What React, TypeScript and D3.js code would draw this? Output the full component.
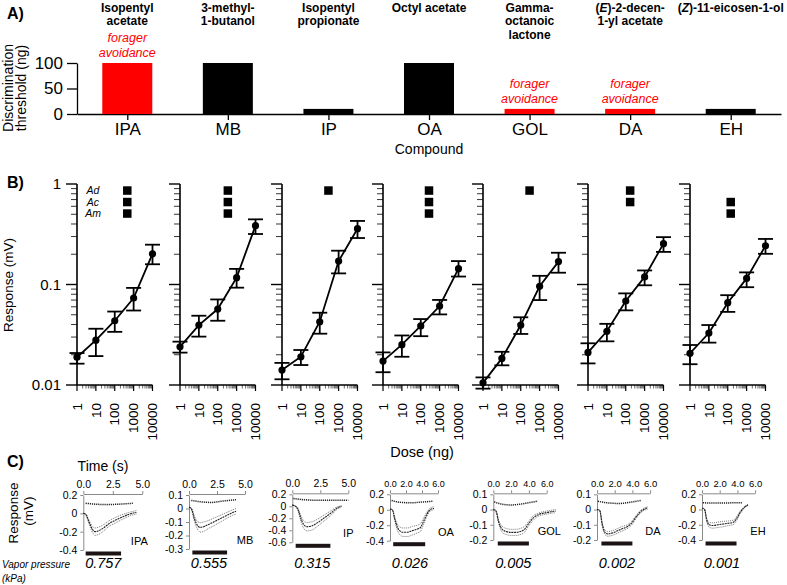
import React, { useEffect, useRef } from 'react';
import * as d3 from 'd3';

const FONT = "'Liberation Sans', Arial, Helvetica, sans-serif";

// ---------- panel A data ----------
const codes = ['IPA', 'MB', 'IP', 'OA', 'GOL', 'DA', 'EH'];
const names = [
  ['Isopentyl', 'acetate'],
  ['3-methyl-', '1-butanol'],
  ['Isopentyl', 'propionate'],
  ['Octyl acetate'],
  ['Gamma-', 'octanoic', 'lactone'],
  ['(*E*)-2-decen-', '1-yl acetate'],
  ['(*Z*)-11-eicosen-1-ol'],
];
const thresholds = [100, 100, 10, 100, 10, 10, 10];
const avoided = [true, false, false, false, true, true, false];
const thresholdTicks = [0, 50, 100];

// ---------- panel B data ----------
const doses = [1, 10, 100, 1000, 10000];
const doseLabels = ['1', '10', '100', '1000', '10000'];
const respTicks = [1, 0.1, 0.01];
const respTickLabels = ['1', '0.1', '0.01'];
const receptors = ['Ad', 'Ac', 'Am'];
const receptorHits = [
  [1, 1, 1],
  [1, 1, 1],
  [1, 0, 0],
  [1, 1, 1],
  [1, 0, 0],
  [1, 1, 0],
  [0, 1, 1],
];
const respMean = [
  [0.0189, 0.0279, 0.0436, 0.0734, 0.202],
  [0.024, 0.0395, 0.057, 0.117, 0.385],
  [0.0141, 0.0191, 0.0426, 0.171, 0.359],
  [0.0173, 0.0252, 0.0387, 0.0611, 0.1436],
  [0.0105, 0.0184, 0.0395, 0.096, 0.169],
  [0.0211, 0.0342, 0.0685, 0.119, 0.255],
  [0.0207, 0.0329, 0.0659, 0.115, 0.243],
];
const respLo = [
  [0.0163, 0.0194, 0.0338, 0.0551, 0.159],
  [0.021, 0.0303, 0.0436, 0.093, 0.318],
  [0.0114, 0.0158, 0.0324, 0.129, 0.29],
  [0.0134, 0.0191, 0.0306, 0.0504, 0.12],
  [0.0092, 0.0157, 0.0322, 0.07, 0.131],
  [0.0164, 0.0272, 0.0553, 0.0982, 0.211],
  [0.0161, 0.0264, 0.0534, 0.094, 0.202],
];
const respHi = [
  [0.0208, 0.0363, 0.0538, 0.0925, 0.249],
  [0.027, 0.0489, 0.071, 0.143, 0.445],
  [0.0166, 0.0223, 0.0524, 0.217, 0.429],
  [0.0211, 0.0311, 0.0453, 0.0702, 0.171],
  [0.0119, 0.0214, 0.0472, 0.122, 0.207],
  [0.026, 0.0406, 0.0816, 0.138, 0.296],
  [0.025, 0.0395, 0.0783, 0.132, 0.284],
];

// ---------- panel C data ----------
const timeTicks = [[0, 2.5, 5], [0, 2.5, 5], [0, 2.5, 5], [0, 2, 4, 6], [0, 2, 4, 6], [0, 2, 4, 6], [0, 2, 4, 6]];
const mvTicks = [
  [0.2, 0, -0.2, -0.4],
  [0.1, 0, -0.1, -0.2, -0.3],
  [0.2, 0, -0.2, -0.4, -0.6],
  [0.2, 0, -0.2, -0.4],
  [0.1, 0, -0.1, -0.2],
  [0.1, 0, -0.1, -0.2],
  [0.2, 0, -0.2, -0.4],
];
const traceTime = [
  [0, 0.2, 0.5, 0.8, 1.0, 1.3, 1.7, 2.2, 2.8, 3.4, 4.0, 4.5],
  [0, 0.2, 0.5, 0.8, 1.0, 1.3, 1.7, 2.2, 2.8, 3.4, 3.9, 4.2],
  [0, 0.2, 0.5, 0.8, 1.0, 1.3, 1.7, 2.2, 2.8, 3.4, 4.0, 4.4],
  [0, 0.3, 0.6, 0.9, 1.2, 1.6, 2.2, 2.8, 3.4, 3.8, 4.2, 4.6, 5.0, 5.5],
  [0, 0.3, 0.6, 1.0, 1.5, 2.0, 2.5, 3.0, 3.5, 4.0, 4.5, 5.0, 6.0, 7.0],
  [0, 0.3, 0.6, 0.9, 1.2, 1.7, 2.3, 2.9, 3.5, 3.9, 4.4, 5.0, 5.7],
  [0, 0.3, 0.5, 0.8, 1.2, 1.8, 2.4, 3.0, 3.5, 3.9, 4.3, 4.7, 5.2],
];
const traceMean = [
  [0, -0.01, -0.1, -0.18, -0.2, -0.19, -0.16, -0.11, -0.07, -0.035, -0.005, 0.01],
  [0.01, 0.0, -0.08, -0.13, -0.14, -0.135, -0.12, -0.1, -0.075, -0.05, -0.03, -0.02],
  [0.02, 0.01, -0.05, -0.22, -0.3, -0.34, -0.33, -0.28, -0.2, -0.12, -0.03, 0.0],
  [0.01, 0.0, -0.12, -0.22, -0.27, -0.29, -0.29, -0.27, -0.25, -0.23, -0.15, -0.06, 0.0, 0.02],
  [0.0, -0.01, -0.08, -0.13, -0.145, -0.15, -0.15, -0.145, -0.13, -0.09, -0.055, -0.035, -0.02, -0.01],
  [0, -0.005, -0.1, -0.15, -0.16, -0.155, -0.14, -0.125, -0.11, -0.09, -0.05, -0.01, 0.01],
  [0.02, 0.0, -0.12, -0.2, -0.21, -0.2, -0.19, -0.18, -0.17, -0.12, -0.04, 0.02, 0.06],
];
const traceSe = [
  [0, 0.005, 0.02, 0.035, 0.04, 0.04, 0.035, 0.03, 0.03, 0.025, 0.02, 0.02],
  [0, 0.005, 0.02, 0.03, 0.035, 0.035, 0.03, 0.028, 0.025, 0.022, 0.02, 0.02],
  [0, 0, 0.02, 0.05, 0.06, 0.07, 0.07, 0.06, 0.05, 0.04, 0.02, 0.01],
  [0, 0, 0.02, 0.04, 0.05, 0.055, 0.055, 0.055, 0.05, 0.05, 0.04, 0.03, 0.02, 0.02],
  [0, 0.005, 0.01, 0.02, 0.02, 0.02, 0.02, 0.02, 0.02, 0.015, 0.015, 0.01, 0.01, 0.01],
  [0, 0, 0.01, 0.015, 0.015, 0.015, 0.015, 0.015, 0.012, 0.012, 0.01, 0.008, 0.008],
  [0, 0, 0.02, 0.03, 0.035, 0.035, 0.035, 0.03, 0.03, 0.025, 0.015, 0.01, 0.01],
];
const ctrlTime = [
  [0.2, 1.0, 2.0, 3.0, 4.2],
  [0.2, 1.0, 2.0, 3.0, 4.2],
  [0.1, 1.0, 2.5, 4.0, 5.0],
  [0.2, 1.0, 2.5, 4.0, 5.3],
  [0.1, 1.0, 2.0, 3.0, 4.0, 5.0],
  [0.1, 1.0, 2.5, 4.0, 5.0],
  [0.1, 1.0, 2.5, 4.0, 4.6],
];
const ctrlMean = [
  [0.11, 0.1, 0.095, 0.1, 0.11],
  [0.06, 0.05, 0.045, 0.055, 0.065],
  [0.13, 0.11, 0.1, 0.1, 0.1],
  [0.12, 0.1, 0.09, 0.1, 0.11],
  [0.05, 0.035, 0.03, 0.035, 0.045, 0.055],
  [0.055, 0.045, 0.04, 0.05, 0.06],
  [0.09, 0.085, 0.085, 0.09, 0.09],
];
const stimulus = [[0.2, 3.2], [0.3, 3.4], [0.3, 3.4], [0.4, 4.4], [0.5, 4.0], [0.5, 4.0], [0.4, 3.9]];
const vaporPressure = ['0.757', '0.555', '0.315', '0.026', '0.005', '0.002', '0.001'];

// layout
const bX0 = [77, 180, 282, 383, 483, 588, 690];
const cX0 = [83.3, 189, 292.3, 390, 493.3, 597, 702];
const cPps = [11.8, 11.2, 11.2, 8, 8.9, 8.85, 8.85];
const cTop = [495, 495, 494.3, 494.3, 494.3, 494.3, 494.3];
const cBottom = [550, 549, 542.3, 540.7, 540, 540, 540];
const cTickFont = [10.5, 10.5, 10.5, 9, 9, 9.5, 9.5];

const App = () => {
  const ref = useRef<SVGSVGElement>(null);

  useEffect(() => {
    const svg = d3.select(ref.current);
    svg.selectAll('*').remove();
    svg.attr('font-family', FONT);

    const styleAxis = (g: any, color: string, sw: number, fs: number) => {
      g.selectAll('path,line').attr('stroke', color).attr('stroke-width', sw);
      g.selectAll('text').attr('font-size', fs).attr('font-family', FONT).attr('fill', '#000');
      g.attr('font-family', FONT);
    };

    const label = (x: number, y: number, t: string, size: number, opts: any = {}) => {
      const el = svg.append('text').attr('x', x).attr('y', y).attr('font-size', size).text(t);
      if (opts.anchor) el.attr('text-anchor', opts.anchor);
      if (opts.bold) el.attr('font-weight', 'bold');
      if (opts.italic) el.attr('font-style', 'italic');
      if (opts.fill) el.attr('fill', opts.fill);
      if (opts.rotate) el.attr('x', 0).attr('y', 0).attr('transform', `translate(${x},${y}) rotate(-90)`);
      return el;
    };

    // ================= A =================
    const xA = d3.scalePoint<string>().domain(codes).range([77, 781]).padding(0.5);
    const yA = d3.scaleLinear().domain([0, 100]).range([114, 63]);

    const gAy = svg.append('g').attr('transform', 'translate(77,0)')
      .call(d3.axisLeft(yA).tickValues(thresholdTicks).tickSize(10).tickPadding(4).tickSizeOuter(0));
    styleAxis(gAy, '#000', 1.3, 17);
    const gAx = svg.append('g').attr('transform', 'translate(0,114)')
      .call(d3.axisBottom(xA).tickSize(6).tickPadding(3).tickSizeOuter(0));
    styleAxis(gAx, '#000', 1.3, 17);

    svg.append('g').selectAll('rect').data(codes).join('rect')
      .attr('x', (d) => (xA(d) as number) - 25)
      .attr('width', 50)
      .attr('y', (d, i) => yA(thresholds[i]))
      .attr('height', (d, i) => 114 - yA(thresholds[i]))
      .attr('fill', (d, i) => (avoided[i] ? '#ff0000' : '#000'));

    codes.forEach((c, i) => {
      const cx = xA(c) as number;
      if (avoided[i]) {
        label(cx, yA(thresholds[i]) - 21, 'forager', 12.5, { anchor: 'middle', italic: true, fill: '#ff0000' });
        label(cx, yA(thresholds[i]) - 6, 'avoidance', 12.5, { anchor: 'middle', italic: true, fill: '#ff0000' });
      }
      names[i].forEach((line, k) => {
        const t = svg.append('text').attr('x', cx).attr('y', 11.5 + k * 13.5)
          .attr('text-anchor', 'middle').attr('font-size', 12).attr('font-weight', 'bold');
        line.split('*').forEach((seg, s) => {
          if (!seg) return;
          const ts = t.append('tspan').text(seg);
          if (s % 2 === 1) ts.attr('font-style', 'italic');
        });
      });
    });

    label(429, 154, 'Compound', 14, { anchor: 'middle' });
    label(7, 19, 'A)', 16, { bold: true });
    label(13, 88, 'Discrimination', 14, { anchor: 'middle', rotate: true });
    label(26, 88, 'threshold (ng)', 14, { anchor: 'middle', rotate: true });

    // ================= B =================
    const yB = d3.scaleLog().domain([0.01, 1]).range([385, 184]);
    const isDecade = (v: number) => Math.abs(Math.log10(v) - Math.round(Math.log10(v))) < 1e-6;

    codes.forEach((c, i) => {
      const x0 = bX0[i];
      const xB = d3.scaleLog().domain([1, 10000]).range([x0, x0 + 75.5]);
      const g = svg.append('g');

      g.append('line').attr('x1', x0).attr('x2', x0).attr('y1', 184).attr('y2', 385)
        .attr('stroke', '#000').attr('stroke-width', 1.6);
      g.append('line').attr('x1', x0).attr('x2', x0 + 75.5).attr('y1', 385).attr('y2', 385)
        .attr('stroke', '#000').attr('stroke-width', 1.6);

      g.selectAll('line.yt').data(yB.ticks()).join('line').attr('class', 'yt')
        .attr('x1', (d) => x0 - (isDecade(d) ? 11 : 6)).attr('x2', x0)
        .attr('y1', (d) => yB(d)).attr('y2', (d) => yB(d))
        .attr('stroke', '#000').attr('stroke-width', (d) => (isDecade(d) ? 1.4 : 0.8));
      g.selectAll('line.xt').data(xB.ticks()).join('line').attr('class', 'xt')
        .attr('x1', (d) => xB(d)).attr('x2', (d) => xB(d))
        .attr('y1', 385).attr('y2', (d) => 385 + (isDecade(d) ? 6 : 3.5))
        .attr('stroke', '#000').attr('stroke-width', (d) => (isDecade(d) ? 1.2 : 0.6));

      doses.forEach((d, k) => {
        g.append('text').attr('transform', `translate(${xB(d)},403) rotate(-90)`)
          .attr('text-anchor', 'end').attr('dy', '0.35em').attr('font-size', 13.5).text(doseLabels[k]);
      });

      if (i === 0) {
        respTicks.forEach((t, k) => {
          g.append('text').attr('x', x0 - 16).attr('y', yB(t)).attr('dy', '0.35em')
            .attr('text-anchor', 'end').attr('font-size', 15).text(respTickLabels[k]);
        });
        receptors.forEach((r, k) => {
          g.append('text').attr('x', 93).attr('y', 194 + k * 11.5).attr('text-anchor', 'middle')
            .attr('font-size', 10.5).attr('font-style', 'italic').text(r);
        });
      }

      // receptor squares aligned with compound column
      receptorHits[i].forEach((h, k) => {
        if (!h) return;
        g.append('rect').attr('x', (xA(c) as number) - 4.25).attr('y', 186.3 + k * 11.5)
          .attr('width', 8.5).attr('height', 8.5).attr('fill', '#000');
      });

      const line = d3.line<number>().x((d) => xB(d)).y((d, k) => yB(respMean[i][k]));
      g.append('path').attr('d', line(doses)).attr('fill', 'none')
        .attr('stroke', '#000').attr('stroke-width', 1.8);

      doses.forEach((d, k) => {
        const x = xB(d);
        const ylo = yB(respLo[i][k]);
        const yhi = yB(respHi[i][k]);
        g.append('line').attr('x1', x).attr('x2', x).attr('y1', ylo).attr('y2', yhi)
          .attr('stroke', '#000').attr('stroke-width', 1.8);
        [ylo, yhi].forEach((yy) => {
          g.append('line').attr('x1', x - 7.5).attr('x2', x + 7.5).attr('y1', yy).attr('y2', yy)
            .attr('stroke', '#000').attr('stroke-width', 1.8);
        });
        g.append('circle').attr('cx', x).attr('cy', yB(respMean[i][k])).attr('r', 3.6).attr('fill', '#000');
      });
    });

    label(7, 188, 'B)', 16, { bold: true });
    label(13, 285, 'Response (mV)', 13.5, { anchor: 'middle', rotate: true });
    label(422, 457, 'Dose (ng)', 14.5, { anchor: 'middle' });

    // ================= C =================
    codes.forEach((c, i) => {
      const x0 = cX0[i];
      const tmax = timeTicks[i][timeTicks[i].length - 1];
      const xC = d3.scaleLinear().domain([0, tmax]).range([x0, x0 + tmax * cPps[i]]);
      const yC = d3.scaleLinear().domain(d3.extent(mvTicks[i]) as [number, number]).range([cBottom[i], cTop[i]]);
      const g = svg.append('g');

      const gx = g.append('g').attr('transform', `translate(0,${cTop[i] - 1})`)
        .call(d3.axisTop(xC).tickValues(timeTicks[i]).tickSize(3).tickPadding(3).tickSizeOuter(0)
          .tickFormat((d: any) => d.toFixed(1)));
      styleAxis(gx, '#8a8a8a', 1, cTickFont[i]);
      const gy = g.append('g').attr('transform', `translate(${x0},0)`)
        .call(d3.axisLeft(yC).tickValues(mvTicks[i]).tickSize(3).tickPadding(3).tickSizeOuter(0)
          .tickFormat((d: any) => (d === 0 ? '0' : String(d))));
      styleAxis(gy, '#8a8a8a', 1, 10.5);

      const ln = d3.line<number>().curve(d3.curveMonotoneX);
      const t = traceTime[i];
      const m = traceMean[i];
      const se = traceSe[i];
      const pts = (vals: number[], ts: number[]) => ts.map((tt, k) => [xC(tt), yC(vals[k])] as [number, number]);

      g.append('path').attr('d', ln(pts(ctrlMean[i], ctrlTime[i]) as any)).attr('fill', 'none')
        .attr('stroke', '#222').attr('stroke-width', 1.5).attr('stroke-dasharray', '1.2,0.9');
      g.append('path').attr('d', ln(pts(m.map((v, k) => v + se[k]), t) as any)).attr('fill', 'none')
        .attr('stroke', '#555').attr('stroke-width', 0.8).attr('stroke-dasharray', '1,1');
      g.append('path').attr('d', ln(pts(m.map((v, k) => v - se[k]), t) as any)).attr('fill', 'none')
        .attr('stroke', '#555').attr('stroke-width', 0.8).attr('stroke-dasharray', '1,1');
      g.append('path').attr('d', ln(pts(m, t) as any)).attr('fill', 'none')
        .attr('stroke', '#222').attr('stroke-width', 1.1).attr('stroke-dasharray', '2,0.7');

      g.append('rect').attr('x', xC(stimulus[i][0])).attr('width', xC(stimulus[i][1]) - xC(stimulus[i][0]))
        .attr('y', cBottom[i] + 1.5).attr('height', 4).attr('fill', '#1c1414');

      g.append('text').attr('x', x0 + 56).attr('y', cBottom[i] - 5).attr('text-anchor', 'middle')
        .attr('font-size', 11).text(c);
      g.append('text').attr('x', x0 + 20).attr('y', 568).attr('text-anchor', 'middle')
        .attr('font-size', 14.5).attr('font-style', 'italic').text(vaporPressure[i]);
    });

    label(7, 467, 'C)', 16, { bold: true });
    label(103, 471, 'Time (s)', 14, { anchor: 'middle' });
    label(18, 513, 'Response', 13.5, { anchor: 'middle', rotate: true });
    label(33, 511, '(mV)', 13.5, { anchor: 'middle', rotate: true });
    label(2, 568, 'Vapor pressure', 10, { italic: true });
    label(2, 582, '(kPa)', 10, { italic: true });
  }, []);

  return (
    <svg
      ref={ref}
      width={787}
      height={585}
      style={{ position: 'absolute', left: 0, top: 0, background: '#fff' }}
    />
  );
};

export default App;
